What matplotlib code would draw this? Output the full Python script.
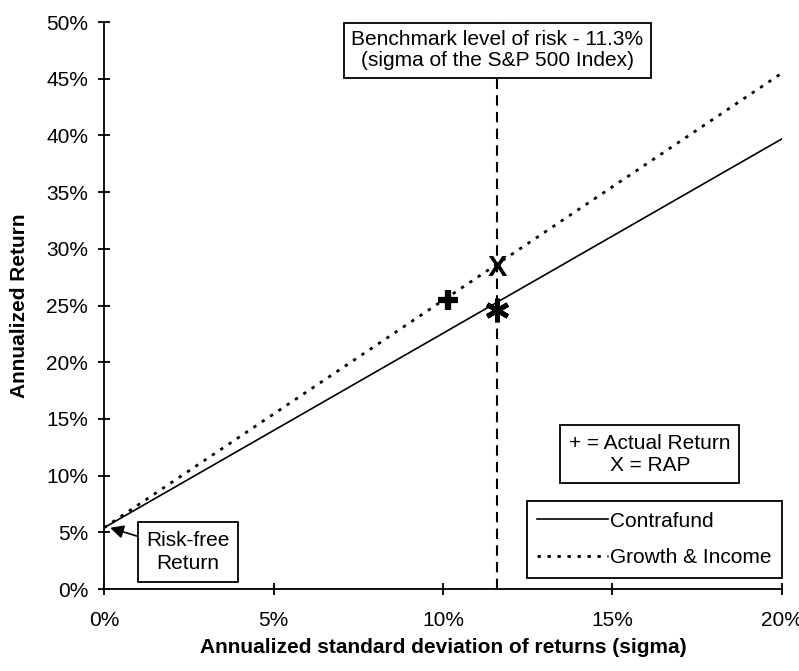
import matplotlib.pyplot as plt
from matplotlib.ticker import FuncFormatter

plt.rcParams['font.family'] = ['Liberation Sans', 'DejaVu Sans']

# risk line end points (sigma %, return %)
sigma_range = [0, 20]
contrafund = [5.4, 39.7]
growth_income = [5.4, 45.5]

# benchmark risk level (sigma %)
benchmark_sigma = 11.6

# markers: actual return (+) and RAP (X / *)
actual_sigma = [10.15]
actual_return = [25.5]
rap_sigma = [11.6]
rap_growth = [28.3]
rap_contra = [24.6]

fig = plt.figure(figsize=(7.99, 6.71), dpi=100)
ax = fig.add_axes([0.1302, 0.1222, 0.8485, 0.845])

ax.plot(sigma_range, contrafund, color='black', lw=1.2, label='Contrafund')
ax.plot(sigma_range, growth_income, color='black', lw=2.0, ls=(0, (1.2, 2.4)),
        label='Growth & Income')
ax.axvline(benchmark_sigma, color='black', lw=1.5, ls=(0, (5, 3)), zorder=1)

ax.plot(actual_sigma, actual_return, marker='+', ms=14, mew=4.5, color='black', ls='none')
ax.text(rap_sigma[0], rap_growth[0], 'X', fontsize=21, fontweight='bold',
        ha='center', va='center')
ax.plot(rap_sigma, rap_contra, marker=(6, 2, 0), ms=17, mew=3.5,
        color='black', ls='none')

ax.set_xlim(0, 20)
ax.set_ylim(0, 50)
ax.set_xticks(range(0, 21, 5))
ax.set_yticks(range(0, 51, 5))
pct = FuncFormatter(lambda v, p: f'{v:.0f}%')
ax.xaxis.set_major_formatter(pct)
ax.yaxis.set_major_formatter(pct)
ax.tick_params(direction='inout', length=9, width=1.3, labelsize=15)
ax.tick_params(axis='y', pad=7)
ax.tick_params(axis='x', pad=11)
ax.spines['top'].set_visible(False)
ax.spines['right'].set_visible(False)
ax.spines['left'].set_linewidth(1.3)
ax.spines['bottom'].set_linewidth(1.3)

ax.set_xlabel('Annualized standard deviation of returns (sigma)', fontsize=15,
              fontweight='bold', va='top')
ax.xaxis.set_label_coords(0.5, -0.086)
ax.set_ylabel('Annualized Return', fontsize=15, fontweight='bold', va='center')
ax.yaxis.set_label_coords(-0.125, 0.5)

ax.text(benchmark_sigma, 47.5,
        'Benchmark level of risk - 11.3%\n(sigma of the S&P 500 Index)',
        ha='center', va='center', fontsize=15, linespacing=1.15,
        bbox=dict(boxstyle='square,pad=0.35', fc='white', ec='black', lw=1.3))
ax.text(16.1, 11.9, '+ = Actual Return\nX = RAP', ha='center', va='center',
        fontsize=15, linespacing=1.2,
        bbox=dict(boxstyle='square,pad=0.42', fc='white', ec='black', lw=1.3))
ax.annotate('Risk-free\nReturn', xy=(0.18, 5.4), xytext=(2.48, 3.26),
            ha='center', va='center', fontsize=15, linespacing=1.3,
            bbox=dict(boxstyle='square,pad=0.4', fc='white', ec='black', lw=1.3),
            arrowprops=dict(arrowstyle='-|>', color='black', lw=1.2,
                            mutation_scale=20, shrinkA=0, shrinkB=0))

leg = ax.legend(loc='lower right', bbox_to_anchor=(1.0, 0.02), borderaxespad=0,
                fontsize=15, frameon=True, fancybox=False,
                edgecolor='black', handlelength=3.4, borderpad=0.5,
                labelspacing=0.85, handletextpad=0.1)
leg.get_frame().set_linewidth(1.3)
leg.get_frame().set_alpha(1)

fig.savefig('out.png', dpi=100)
